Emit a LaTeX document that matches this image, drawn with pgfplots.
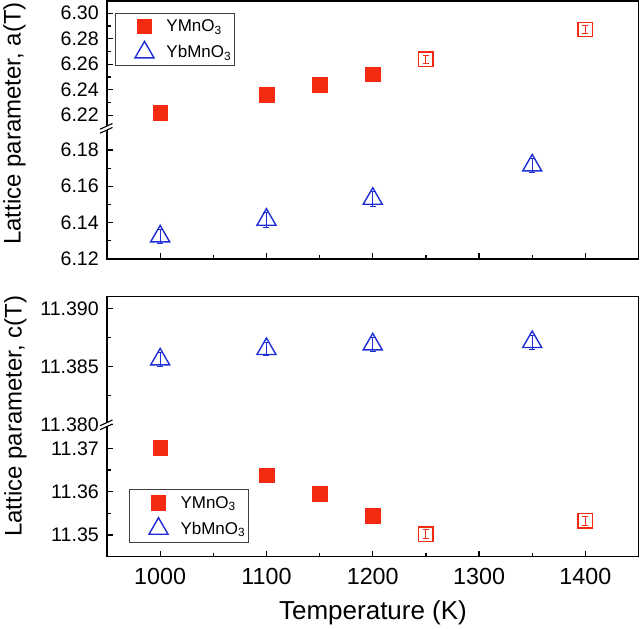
\documentclass[border=0pt]{standalone}
\usepackage{pgfplots}
\pgfplotsset{compat=1.18}
\usepackage{fontspec}
\setmainfont{Liberation Sans}
\definecolor{myred}{RGB}{245,42,18}
\definecolor{myblue}{RGB}{30,45,215}
\pgfplotsset{
  seg/.style={
    scale only axis, width=531.5bp,
    xmin=950, xmax=1450, clip=false,
    axis line style={draw=none},
    tick align=inside, ytick pos=left, xtick pos=bottom,
    major tick length=6bp, minor tick length=3.5bp,
    every tick/.style={black, line width=1.2bp},
    yticklabel style={font=\fontsize{19.6bp}{22bp}\selectfont, inner sep=0pt, xshift=-8bp},
    xticklabel style={font=\fontsize{23.3bp}{26bp}\selectfont, inner sep=0pt, yshift=-11bp},
    legend style={font=\fontsize{17bp}{20bp}\selectfont, draw=black!75, line width=1bp,
      inner xsep=3bp, inner ysep=1.5bp, row sep=1.7bp, nodes={inner sep=0pt}},
    legend cell align=left,
    legend image code/.code={\path[draw=none, fill=none] (0bp,-12bp) rectangle (48bp,12bp);
      \draw[##1] plot coordinates {(26bp,0bp)};},
  },
  sq/.style={only marks, mark=square*, mark size=7.3bp, color=myred},
  osq/.style={only marks, mark=square, mark size=7.2bp, color=myred, mark options={line width=1.4bp}},
  tri/.style={only marks, mark=triangle, mark size=11bp, color=myblue, mark options={line width=1.4bp}},
  ebr/.style={error bars/.cd, y dir=both, y explicit,
    error bar style={line width=0.9bp, myred},
    error mark options={rotate=90, line width=0.9bp, myred, mark size=3bp}},
  ebb/.style={error bars/.cd, y dir=both, y explicit,
    error bar style={line width=0.9bp, myblue},
    error mark options={rotate=90, line width=0.9bp, myblue, mark size=3bp}},
}
\begin{document}
\begin{tikzpicture}
\path[use as bounding box] (0,0) rectangle (640bp,629bp);
% ---------------- top panel, upper segment
\begin{axis}[seg, at={(107bp,501bp)}, anchor=south west, height=127bp,
  ymin=6.2100, ymax=6.3096, xtick=\empty,
  ytick={6.22,6.24,6.26,6.28,6.30}, yticklabels={6.22,6.24,6.26,6.28,6.30},
  minor ytick={6.23,6.25,6.27,6.29},
  legend style={at={(0.01505,0.9079)}, anchor=north west}]
\addplot[sq] table {
x y
1000 6.2218
1100 6.2359
1150 6.2438
1200 6.2522
};
\addlegendentry{YMnO\textsubscript{3}}
\addlegendimage{tri}
\addlegendentry{YbMnO\textsubscript{3}}
\addplot[osq, forget plot, ebr] table[x=x, y=y, y error=e] {
x y e
1250 6.2640 0.003
1400 6.2873 0.003
};
\end{axis}
% ---------------- top panel, lower segment
\begin{axis}[seg, at={(107bp,370bp)}, anchor=south west, height=131bp,
  ymin=6.1198, ymax=6.1922,
  xtick={1000,1100,1200,1300,1400}, xticklabels={,,,,},
  minor xtick={1050,1150,1250,1350},
  ytick={6.12,6.14,6.16,6.18}, yticklabels={6.12,6.14,6.16,6.18},
  minor ytick={6.13,6.15,6.17}]
\addplot[tri, ebb] table[x=x, y=y, y error=e] {
x y e
1000 6.1323 0.004
1100 6.1415 0.004
1200 6.1531 0.004
1350 6.1715 0.004
};
\end{axis}
% ---------------- bottom panel, upper segment
\begin{axis}[seg, at={(107bp,204.5bp)}, anchor=south west, height=127.8bp,
  ymin=11.380, ymax=11.391, xtick=\empty,
  ytick={11.380,11.385,11.390}, yticklabels={11.380,11.385,11.390},
  minor ytick={11.3825,11.3875}]
\addplot[tri, ebb] table[x=x, y=y, y error=e] {
x y e
1000 11.3856 0.0006
1100 11.3865 0.0006
1200 11.3869 0.0006
1350 11.3871 0.0006
};
\end{axis}
% ---------------- bottom panel, lower segment
\begin{axis}[seg, at={(107bp,72.3bp)}, anchor=south west, height=132.2bp,
  ymin=11.345, ymax=11.3755,
  xtick={1000,1100,1200,1300,1400}, xticklabels={1000,1100,1200,1300,1400},
  minor xtick={1050,1150,1250,1350},
  ytick={11.35,11.36,11.37}, yticklabels={11.35,11.36,11.37},
  minor ytick={11.355,11.365},
  legend style={at={(0.0414,0.512)}, anchor=north west}]
\addplot[sq] table {
x y
1000 11.3701
1100 11.3638
1150 11.3595
1200 11.3544
};
\addlegendentry{YMnO\textsubscript{3}}
\addlegendimage{tri}
\addlegendentry{YbMnO\textsubscript{3}}
\addplot[osq, forget plot, ebr] table[x=x, y=y, y error=e] {
x y e
1250 11.3502 0.001
1400 11.3533 0.001
};
\end{axis}
% frames
\draw[line width=1.5bp] (107bp,370bp) rectangle (638.5bp,628bp);
\draw[line width=1.5bp] (107bp,72.3bp) rectangle (638.5bp,332.3bp);
% break marks
\foreach \yb in {501,204.5}{
  \fill[white] (101bp,\yb bp-4.7bp) -- (112bp,\yb bp+0.3bp) -- (112bp,\yb bp+4.3bp) -- (101bp,\yb bp-0.7bp) -- cycle;
  \draw[line width=1.1bp] (100bp,\yb bp-5.2bp) -- (112.5bp,\yb bp+0.5bp);
  \draw[line width=1.1bp] (100bp,\yb bp-1.2bp) -- (112.5bp,\yb bp+4.5bp);
}
% labels
\node[rotate=90, anchor=base west, inner sep=0pt, font=\fontsize{24bp}{28bp}\selectfont] at (20.7bp,384bp) {Lattice parameter, a(T)};
\node[rotate=90, anchor=base west, inner sep=0pt, font=\fontsize{24bp}{28bp}\selectfont] at (21.5bp,92bp) {Lattice parameter, c(T)};
\node[anchor=base, inner sep=0pt, font=\fontsize{26bp}{30bp}\selectfont] at (373bp,9.7bp) {Temperature (K)};
\end{tikzpicture}
\end{document}
